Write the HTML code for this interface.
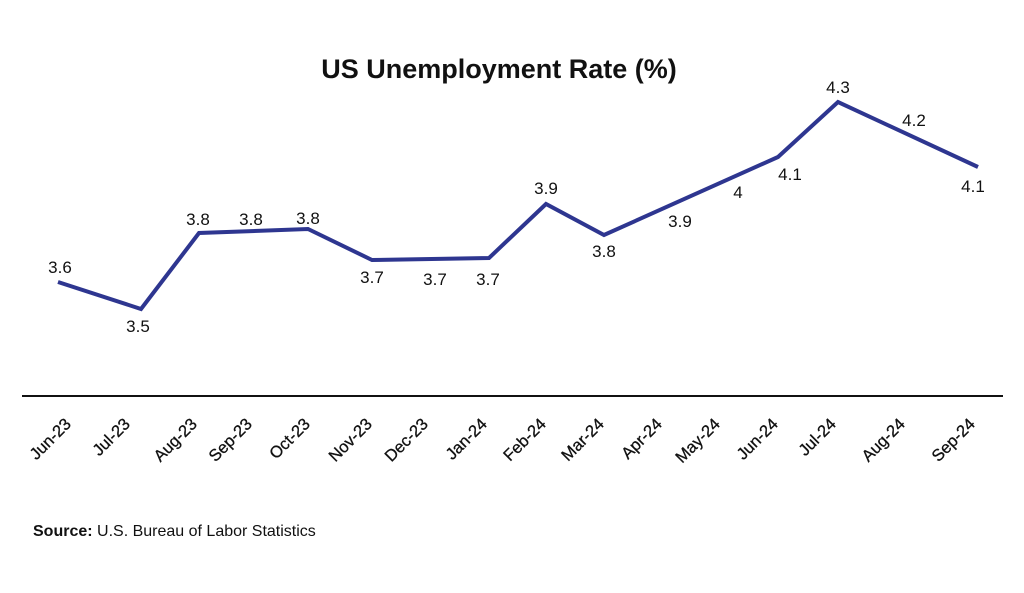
<!DOCTYPE html>
<html><head><meta charset="utf-8"><style>
body{margin:0;background:#fff;}
svg{display:block;font-family:"Liberation Sans",Arial,sans-serif;}
</style></head><body>
<svg width="1024" height="593" viewBox="0 0 1024 593">
<text x="499" y="78" text-anchor="middle" font-size="27" font-weight="bold" fill="#111">US Unemployment Rate (%)</text>
<polyline fill="none" stroke="#2e3690" stroke-width="4" stroke-linejoin="miter" points="58,282 141,309 199,233 308,229 372,260 489,258 546,204 604,235 778,157 838,102 978,167"/>
<g font-size="17" fill="#111" text-anchor="middle">
<text x="60" y="273">3.6</text>
<text x="138" y="332">3.5</text>
<text x="198" y="225">3.8</text>
<text x="251" y="225">3.8</text>
<text x="308" y="224">3.8</text>
<text x="372" y="283">3.7</text>
<text x="435" y="285">3.7</text>
<text x="488" y="285">3.7</text>
<text x="546" y="194">3.9</text>
<text x="604" y="257">3.8</text>
<text x="680" y="227">3.9</text>
<text x="738" y="198">4</text>
<text x="790" y="180">4.1</text>
<text x="838" y="93">4.3</text>
<text x="914" y="126">4.2</text>
<text x="973" y="192">4.1</text>
</g>
<line x1="22" y1="396" x2="1003" y2="396" stroke="#111" stroke-width="2"/>
<g font-size="16.5" fill="#111" text-anchor="end" stroke="#111" stroke-width="0.3">
<text transform="translate(72,425) rotate(-45)">Jun-23</text>
<text transform="translate(131,425) rotate(-45)">Jul-23</text>
<text transform="translate(198,425) rotate(-45)">Aug-23</text>
<text transform="translate(253,425) rotate(-45)">Sep-23</text>
<text transform="translate(311,425) rotate(-45)">Oct-23</text>
<text transform="translate(373,425) rotate(-45)">Nov-23</text>
<text transform="translate(429,425) rotate(-45)">Dec-23</text>
<text transform="translate(488,425) rotate(-45)">Jan-24</text>
<text transform="translate(547,425) rotate(-45)">Feb-24</text>
<text transform="translate(605,425) rotate(-45)">Mar-24</text>
<text transform="translate(663,425) rotate(-45)">Apr-24</text>
<text transform="translate(721,425) rotate(-45)">May-24</text>
<text transform="translate(779,425) rotate(-45)">Jun-24</text>
<text transform="translate(837,425) rotate(-45)">Jul-24</text>
<text transform="translate(906,425) rotate(-45)">Aug-24</text>
<text transform="translate(976,425) rotate(-45)">Sep-24</text>
</g>
<text x="33" y="536" font-size="16" fill="#111"><tspan font-weight="bold">Source:</tspan> U.S. Bureau of Labor Statistics</text>
</svg>
</body></html>
